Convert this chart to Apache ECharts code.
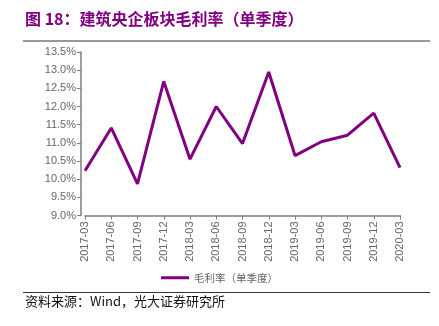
<!DOCTYPE html>
<html>
<head>
<meta charset="utf-8">
<script src="https://cdn.jsdelivr.net/npm/echarts@6/dist/echarts.min.js"></script>
<style>
  html, body { margin: 0; padding: 0; background: #fff; }
  #chart { width: 439px; height: 326px; }
</style>
</head>
<body>
<div id="chart"></div>
<script>
// Quarterly gross margin of central construction SOEs
const quarters = ['2017-03','2017-06','2017-09','2017-12','2018-03','2018-06','2018-09',
                  '2018-12','2019-03','2019-06','2019-09','2019-12','2020-03'];
const grossMargin = [10.23, 11.41, 9.87, 12.69, 10.55, 12.00, 10.98,
                     12.95, 10.65, 11.03, 11.21, 11.82, 10.32];
const seriesName = '毛利率（单季度）';
const titleText = '图 18：建筑央企板块毛利率（单季度）';
const sourceText = '资料来源：Wind，光大证券研究所';

const purple = '#800080';
const chart = echarts.init(document.getElementById('chart'), null, { renderer: 'canvas' });

chart.setOption({
  animation: false,
  backgroundColor: '#fff',
  grid: { left: 85, right: 39, top: 52, bottom: 110.5 },
  legend: {
    data: [seriesName],
    bottom: 38,
    left: 'center',
    itemWidth: 28,
    itemHeight: 3,
    icon: 'rect',
    itemGap: 4,
    textStyle: { color: '#666666', fontSize: 10.5, fontFamily: 'Noto Sans CJK SC' }
  },
  xAxis: {
    type: 'category',
    data: quarters,
    boundaryGap: false,
    axisLine: { lineStyle: { color: '#7f7f7f', width: 1.5 } },
    axisTick: { show: true, length: 4, lineStyle: { color: '#7f7f7f' } },
    axisLabel: {
      rotate: 90,
      interval: 0,
      color: '#666666',
      fontSize: 11,
      fontFamily: 'Liberation Sans',
      margin: 6
    },
    splitLine: { show: false }
  },
  yAxis: {
    type: 'value',
    min: 9.0,
    max: 13.5,
    interval: 0.5,
    offset: 4,
    axisLine: { show: true, lineStyle: { color: '#7f7f7f', width: 1.5 } },
    axisTick: { show: true, length: 4, lineStyle: { color: '#7f7f7f' } },
    axisLabel: {
      color: '#666666',
      fontSize: 11,
      fontFamily: 'Liberation Sans',
      margin: 5,
      formatter: v => v.toFixed(1) + '%'
    },
    splitLine: { show: false }
  },
  series: [{
    name: seriesName,
    type: 'line',
    data: grossMargin,
    symbol: 'none',
    lineStyle: { color: purple, width: 3 },
    itemStyle: { color: purple }
  }],
  graphic: [
    {
      type: 'text',
      left: 25,
      top: 11,
      style: {
        text: titleText,
        fill: purple,
        font: 'bold 16px "Noto Sans CJK SC", sans-serif'
      }
    },
    {
      type: 'line',
      shape: { x1: 23, y1: 41, x2: 430, y2: 41 },
      style: { stroke: '#999999', lineWidth: 2 }
    },
    {
      type: 'line',
      shape: { x1: 23, y1: 292.5, x2: 430, y2: 292.5 },
      style: { stroke: '#333333', lineWidth: 1 }
    },
    {
      type: 'text',
      left: 25,
      top: 295,
      style: {
        text: sourceText,
        fill: '#111',
        font: '13px "Noto Sans CJK SC", sans-serif'
      }
    }
  ]
});
</script>
</body>
</html>
